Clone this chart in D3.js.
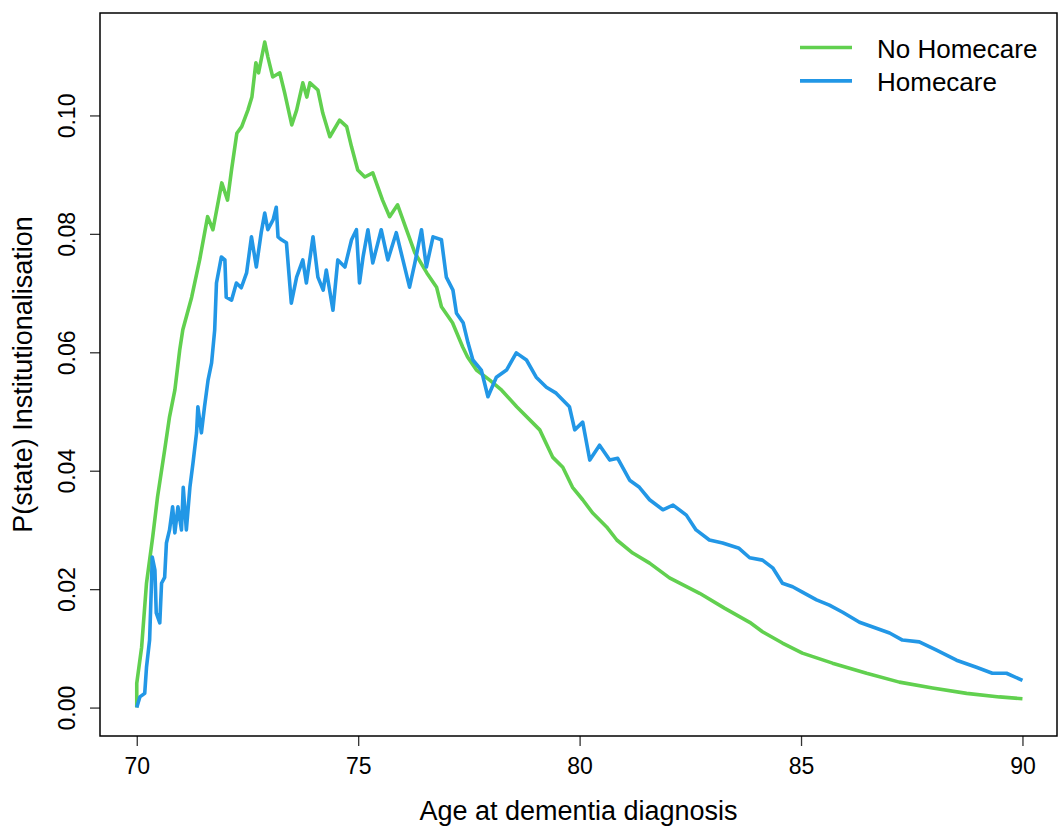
<!DOCTYPE html>
<html>
<head>
<meta charset="utf-8">
<script src="https://cdn.jsdelivr.net/npm/d3@7"></script>
<style>
  body { margin: 0; background: #fff; }
  text { font-family: "Liberation Sans", Arial, sans-serif; fill: #000; }
</style>
</head>
<body>
<div id="chart"></div>
<script>
'use strict'

let noHomecareAge = [70.00, 70.00, 70.11, 70.22, 70.36, 70.47, 70.63, 70.74, 70.86, 70.97, 71.04, 71.24, 71.42, 71.60, 71.72, 71.92, 72.05, 72.14, 72.26, 72.37, 72.51, 72.60, 72.69, 72.75, 72.89, 72.96, 73.07, 73.23, 73.34, 73.50, 73.61, 73.75, 73.84, 73.91, 74.09, 74.20, 74.36, 74.58, 74.74, 74.85, 74.99, 75.15, 75.33, 75.55, 75.71, 75.89, 76.09, 76.28, 76.55, 76.77, 76.88, 77.13, 77.36, 77.47, 77.67, 77.97, 78.24, 78.58, 79.10, 79.39, 79.62, 79.84, 80.07, 80.29, 80.61, 80.84, 81.20, 81.58, 82.03, 82.71, 83.27, 83.84, 84.13, 84.58, 85.03, 85.71, 86.48, 87.22, 87.97, 88.74, 89.48, 90.00]
let noHomecareP = [0.0000, 0.0041, 0.0102, 0.0210, 0.0288, 0.0356, 0.0435, 0.0491, 0.0536, 0.0604, 0.0638, 0.0693, 0.0756, 0.0829, 0.0807, 0.0886, 0.0857, 0.0908, 0.0970, 0.0981, 0.1009, 0.1031, 0.1089, 0.1072, 0.1124, 0.1099, 0.1065, 0.1072, 0.1038, 0.0984, 0.1009, 0.1055, 0.1031, 0.1055, 0.1043, 0.1004, 0.0964, 0.0992, 0.0981, 0.0947, 0.0908, 0.0896, 0.0903, 0.0857, 0.0829, 0.0849, 0.0807, 0.0768, 0.0734, 0.0710, 0.0677, 0.0650, 0.0609, 0.0592, 0.0570, 0.0553, 0.0536, 0.0508, 0.0469, 0.0423, 0.0406, 0.0372, 0.0351, 0.0329, 0.0305, 0.0283, 0.0261, 0.0244, 0.0219, 0.0193, 0.0168, 0.0144, 0.0128, 0.0109, 0.0092, 0.0075, 0.0058, 0.0043, 0.0033, 0.0024, 0.0018, 0.0015]

let homecareAge = [70.00, 70.07, 70.18, 70.22, 70.29, 70.33, 70.35, 70.41, 70.44, 70.52, 70.56, 70.63, 70.67, 70.74, 70.81, 70.86, 70.93, 71.01, 71.05, 71.12, 71.20, 71.27, 71.35, 71.38, 71.46, 71.53, 71.61, 71.69, 71.76, 71.80, 71.91, 71.99, 72.02, 72.14, 72.25, 72.36, 72.48, 72.59, 72.70, 72.81, 72.89, 72.96, 73.08, 73.15, 73.19, 73.27, 73.38, 73.49, 73.61, 73.75, 73.83, 73.98, 74.09, 74.21, 74.28, 74.43, 74.54, 74.70, 74.85, 74.96, 75.03, 75.11, 75.22, 75.33, 75.52, 75.67, 75.86, 76.01, 76.16, 76.28, 76.43, 76.54, 76.69, 76.88, 76.99, 77.14, 77.22, 77.37, 77.48, 77.59, 77.78, 77.93, 78.12, 78.35, 78.57, 78.80, 79.02, 79.25, 79.47, 79.77, 79.89, 80.07, 80.23, 80.45, 80.68, 80.86, 81.13, 81.35, 81.58, 81.88, 82.11, 82.41, 82.63, 82.93, 83.23, 83.60, 83.84, 84.13, 84.36, 84.58, 84.81, 85.03, 85.35, 85.64, 85.94, 86.32, 86.70, 87.00, 87.29, 87.67, 88.06, 88.51, 88.96, 89.32, 89.64, 90.00]
let homecareP = [0.0000, 0.0018, 0.0024, 0.0068, 0.0114, 0.0204, 0.0254, 0.0232, 0.0160, 0.0143, 0.0210, 0.0220, 0.0278, 0.0300, 0.0339, 0.0295, 0.0339, 0.0300, 0.0372, 0.0300, 0.0372, 0.0413, 0.0464, 0.0508, 0.0464, 0.0508, 0.0553, 0.0582, 0.0638, 0.0717, 0.0761, 0.0756, 0.0693, 0.0688, 0.0717, 0.0709, 0.0734, 0.0795, 0.0744, 0.0802, 0.0835, 0.0807, 0.0824, 0.0845, 0.0795, 0.0790, 0.0785, 0.0683, 0.0727, 0.0756, 0.0717, 0.0795, 0.0727, 0.0705, 0.0739, 0.0671, 0.0756, 0.0744, 0.0790, 0.0807, 0.0717, 0.0761, 0.0807, 0.0751, 0.0807, 0.0756, 0.0802, 0.0756, 0.0710, 0.0751, 0.0807, 0.0744, 0.0795, 0.0790, 0.0727, 0.0705, 0.0666, 0.0650, 0.0616, 0.0587, 0.0570, 0.0525, 0.0558, 0.0570, 0.0599, 0.0587, 0.0558, 0.0541, 0.0531, 0.0508, 0.0469, 0.0482, 0.0418, 0.0443, 0.0418, 0.0421, 0.0384, 0.0372, 0.0351, 0.0334, 0.0342, 0.0325, 0.0300, 0.0283, 0.0278, 0.0269, 0.0253, 0.0249, 0.0236, 0.0210, 0.0204, 0.0195, 0.0182, 0.0173, 0.0161, 0.0144, 0.0134, 0.0126, 0.0114, 0.0111, 0.0097, 0.0080, 0.0068, 0.0058, 0.0058, 0.0046]

let xTicks = [70, 75, 80, 85, 90]
let yTicks = [0, 0.02, 0.04, 0.06, 0.08, 0.10]
let seriesNames = ['No Homecare', 'Homecare']
let seriesColors = ['#61D04F', '#2297E6']

let width = 1059, height = 829
let box = {left: 100, right: 1057, top: 13, bottom: 736}

let svg = d3.select('#chart').append('svg')
  .attr('width', width).attr('height', height)

let xScale = d3.scaleLinear().domain([69.17, 90.78]).range([box.left, box.right])
let yScale = d3.scaleLinear().domain([-0.0048, 0.1173]).range([box.bottom, box.top])

let series = [
  d3.zip(noHomecareAge, noHomecareP),
  d3.zip(homecareAge, homecareP)
]

let line = d3.line()
  .x(function(d){ return xScale(d[0]) })
  .y(function(d){ return yScale(d[1]) })

svg.append('g').selectAll('path')
  .data(series)
  .enter()
  .append('path')
  .attr('fill', 'none')
  .attr('stroke', function(d, i){ return seriesColors[i] })
  .attr('stroke-width', 3.6)
  .attr('stroke-linejoin', 'round')
  .attr('d', line)

// axes, R style
let xAxis = svg.append('g')
  .attr('transform', 'translate(0,' + box.bottom + ')')
  .call(d3.axisBottom(xScale).tickValues(xTicks).tickSize(10).tickPadding(12).tickFormat(d3.format('d')))
xAxis.select('.domain').remove()
xAxis.selectAll('line').attr('stroke', '#333').attr('stroke-width', 1.3)
xAxis.selectAll('text').attr('font-size', 23).attr('font-family', '"Liberation Sans", Arial, sans-serif').attr('fill', '#000')

let yAxis = svg.append('g')
  .attr('transform', 'translate(' + box.left + ',0)')
  .call(d3.axisLeft(yScale).tickValues(yTicks).tickSize(10).tickFormat(d3.format('.2f')))
yAxis.select('.domain').remove()
yAxis.selectAll('line').attr('stroke', '#333').attr('stroke-width', 1.3)
yAxis.selectAll('text')
  .attr('font-size', 23)
  .attr('font-family', '"Liberation Sans", Arial, sans-serif')
  .attr('fill', '#000')
  .attr('x', null).attr('dy', null)
  .attr('text-anchor', 'middle')
  .attr('transform', 'translate(-25,0) rotate(-90)')

svg.append('rect')
  .attr('x', box.left).attr('y', box.top)
  .attr('width', box.right - box.left).attr('height', box.bottom - box.top)
  .attr('fill', 'none').attr('stroke', '#000').attr('stroke-width', 1.5)

svg.append('text').text('Age at dementia diagnosis')
  .attr('x', (box.left + box.right) / 2).attr('y', 820)
  .attr('text-anchor', 'middle').attr('font-size', 27)

svg.append('text').text('P(state) Institutionalisation')
  .attr('text-anchor', 'middle').attr('font-size', 27)
  .attr('transform', 'translate(32,' + (box.top + box.bottom) / 2 + ') rotate(-90)')

// legend
let legend = svg.append('g').selectAll('g')
  .data(seriesNames)
  .enter()
  .append('g')
  .attr('transform', function(d, i){ return 'translate(800,' + (47.5 + i * 33.4) + ')' })
legend.append('line')
  .attr('x1', 0).attr('x2', 52)
  .attr('stroke', function(d, i){ return seriesColors[i] })
  .attr('stroke-width', 3.6)
legend.append('text').text(function(d){ return d })
  .attr('x', 77).attr('y', 10).attr('font-size', 26)
</script>
</body>
</html>
